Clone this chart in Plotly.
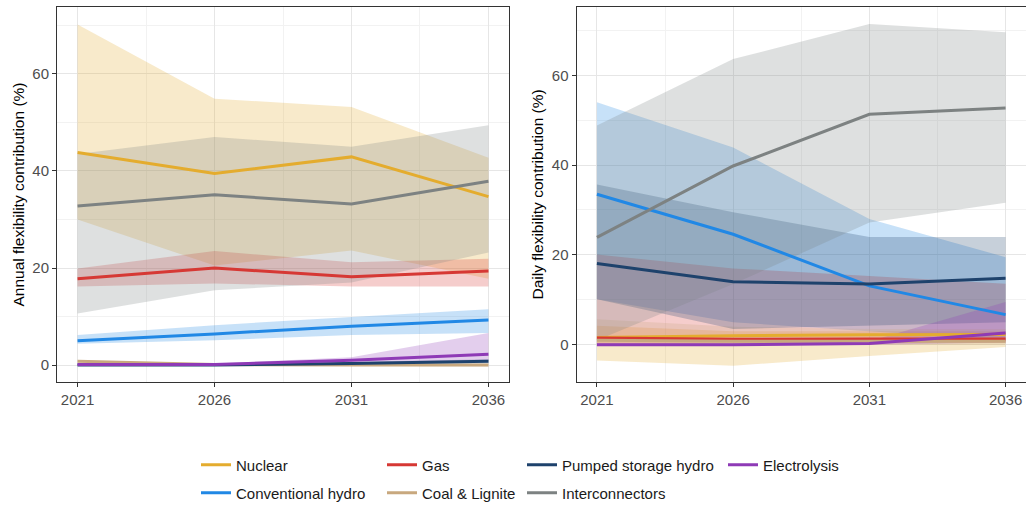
import plotly.graph_objects as go

years = [2021, 2026, 2031, 2036]

series = ["Nuclear", "Gas", "Pumped storage hydro", "Electrolysis",
          "Conventional hydro", "Coal & Lignite", "Interconnectors"]

colors = {
    "Nuclear": (228, 172, 46),
    "Gas": (214, 56, 52),
    "Pumped storage hydro": (30, 66, 108),
    "Electrolysis": (142, 58, 182),
    "Conventional hydro": (33, 136, 229),
    "Coal & Lignite": (200, 168, 126),
    "Interconnectors": (125, 130, 130),
}

# ---- Annual (left panel) ----
annual_mid = {
    "Nuclear": [43.8, 39.5, 42.9, 34.7],
    "Conventional hydro": [5.0, 6.4, 8.0, 9.3],
    "Gas": [17.8, 20.0, 18.2, 19.4],
    "Coal & Lignite": [0.8, 0.1, 0.0, 0.0],
    "Pumped storage hydro": [0.0, 0.0, 0.3, 0.8],
    "Interconnectors": [32.8, 35.1, 33.2, 37.9],
    "Electrolysis": [0.1, 0.1, 1.0, 2.2],
}
annual_lo = {
    "Nuclear": [30.0, 20.5, 23.6, 17.8],
    "Conventional hydro": [4.4, 5.1, 6.2, 6.6],
    "Gas": [16.2, 16.8, 16.2, 16.2],
    "Coal & Lignite": [0.5, 0.0, -0.2, -0.3],
    "Pumped storage hydro": [0.0, 0.0, 0.0, 0.3],
    "Interconnectors": [10.6, 15.4, 17.0, 23.2],
    "Electrolysis": [0.0, 0.0, 0.3, 0.8],
}
annual_hi = {
    "Nuclear": [70.2, 54.9, 53.2, 42.7],
    "Conventional hydro": [6.2, 8.2, 9.9, 11.5],
    "Gas": [19.9, 23.5, 21.2, 21.9],
    "Coal & Lignite": [1.0, 0.2, 0.2, 0.2],
    "Pumped storage hydro": [0.1, 0.1, 0.6, 1.2],
    "Interconnectors": [43.5, 47.0, 45.0, 49.4],
    "Electrolysis": [0.3, 0.3, 1.6, 6.6],
}

# ---- Daily (right panel) ----
daily_mid = {
    "Nuclear": [1.6, 2.0, 2.2, 2.3],
    "Conventional hydro": [33.5, 24.6, 13.1, 6.7],
    "Gas": [1.5, 1.2, 1.3, 1.3],
    "Coal & Lignite": [1.0, 0.8, 0.8, 0.8],
    "Pumped storage hydro": [18.1, 14.0, 13.5, 14.8],
    "Interconnectors": [23.9, 39.8, 51.3, 52.7],
    "Electrolysis": [0.0, 0.0, 0.3, 2.6],
}
daily_lo = {
    "Nuclear": [-3.5, -4.7, -2.5, -0.5],
    "Conventional hydro": [10.1, 5.0, 3.0, 1.0],
    "Gas": [-0.3, 0.3, 0.5, 0.5],
    "Coal & Lignite": [0.0, 0.0, 0.0, 0.0],
    "Pumped storage hydro": [10.1, 3.5, 4.2, 5.0],
    "Interconnectors": [1.0, 13.5, 27.2, 31.6],
    "Electrolysis": [0.0, 0.0, 0.0, 0.5],
}
daily_hi = {
    "Nuclear": [4.2, 3.0, 3.0, 3.0],
    "Conventional hydro": [54.0, 43.9, 28.0, 19.5],
    "Gas": [20.1, 17.0, 15.3, 13.6],
    "Coal & Lignite": [5.7, 4.0, 3.5, 3.5],
    "Pumped storage hydro": [35.7, 29.5, 24.0, 24.0],
    "Interconnectors": [48.8, 63.6, 71.4, 69.6],
    "Electrolysis": [0.3, 0.3, 0.8, 9.5],
}

x_ticks = [2021, 2026, 2031, 2036]
x_minor = [2023.5, 2028.5, 2033.5]
y_ticks = [0, 20, 40, 60]
y_minor = [10, 30, 50, 70]

ribbon_order = ["Nuclear", "Conventional hydro", "Gas", "Coal & Lignite",
                "Pumped storage hydro", "Interconnectors", "Electrolysis"]
line_order = ["Nuclear", "Gas", "Coal & Lignite", "Conventional hydro",
              "Interconnectors", "Pumped storage hydro", "Electrolysis"]

W, H = 1026, 506
fig = go.Figure()

def rgba(c, a):
    return f"rgba({c[0]},{c[1]},{c[2]},{a})"

panels = [("x", "y", annual_mid, annual_lo, annual_hi, True),
          ("x2", "y2", daily_mid, daily_lo, daily_hi, False)]

for xa, ya, mid, lo, hi, _ in panels:
    for s in ribbon_order:
        fig.add_trace(go.Scatter(
            x=years + years[::-1], y=hi[s] + lo[s][::-1],
            fill="toself", fillcolor=rgba(colors[s], 0.25),
            line=dict(width=0), mode="lines", hoverinfo="skip",
            showlegend=False, xaxis=xa, yaxis=ya))

legend_ids = {s: ("legend" if i == 0 else f"legend{i+1}") for i, s in enumerate(series)}

for xa, ya, mid, lo, hi, show in panels:
    for s in line_order:
        fig.add_trace(go.Scatter(
            x=years, y=mid[s], mode="lines", name=s,
            line=dict(color=rgba(colors[s], 1), width=3),
            showlegend=show, legend=legend_ids[s],
            xaxis=xa, yaxis=ya))

font_family = "Liberation Sans, Arial, sans-serif"
axis_common = dict(
    showline=True, linecolor="#333333", linewidth=1, mirror=True,
    ticks="outside", ticklen=4, tickcolor="#333333", tickwidth=1,
    tickfont=dict(size=15, color="#4D4D4D", family=font_family),
    showgrid=True, gridcolor="#E6E6E6", gridwidth=1, zeroline=False,
)
xaxis_common = dict(axis_common, range=[2020.25, 2036.75], tickvals=x_ticks,
                    minor=dict(tickvals=x_minor, showgrid=True, gridcolor="#F2F2F2", ticks=""))
yaxis_minor = dict(tickvals=y_minor, showgrid=True, gridcolor="#F2F2F2", ticks="")

top = 1 - 7 / H
bot = 1 - 382 / H

layout = dict(
    width=W, height=H,
    margin=dict(l=0, r=0, t=0, b=0, autoexpand=False),
    paper_bgcolor="white", plot_bgcolor="white",
    font=dict(family=font_family, color="#1A1A1A"),
    xaxis=dict(xaxis_common, domain=[57 / W, 509 / W], anchor="y"),
    yaxis=dict(axis_common, domain=[bot, top], range=[-3.5, 73.8],
               tickvals=y_ticks, minor=yaxis_minor, anchor="x"),
    xaxis2=dict(xaxis_common, domain=[576.5 / W, 1.0], anchor="y2"),
    yaxis2=dict(axis_common, domain=[bot, top], range=[-8.3, 75.2],
                tickvals=y_ticks, minor=yaxis_minor, anchor="x2"),
    annotations=[
        dict(text="Annual flexibility contribution (%)", textangle=-90,
             x=18 / W, y=(bot + top) / 2, xref="paper", yref="paper",
             xanchor="center", yanchor="middle", showarrow=False,
             font=dict(size=15.5, color="#000000", family=font_family)),
        dict(text="Daily flexibility contribution (%)", textangle=-90,
             x=537 / W, y=(bot + top) / 2, xref="paper", yref="paper",
             xanchor="center", yanchor="middle", showarrow=False,
             font=dict(size=15.5, color="#000000", family=font_family)),
    ],
    showlegend=True,
)

# legend positions (text start x, row center y) in pixels
legend_pos = {
    "Nuclear": (236, 465), "Gas": (422, 465),
    "Pumped storage hydro": (562, 465), "Electrolysis": (763, 465),
    "Conventional hydro": (236, 493), "Coal & Lignite": (422, 493),
    "Interconnectors": (562, 493),
}
for s in series:
    tx, ty = legend_pos[s]
    layout[legend_ids[s]] = dict(
        x=(tx - 40) / W, y=1 - ty / H, xanchor="left", yanchor="middle",
        orientation="v", bgcolor="rgba(0,0,0,0)", borderwidth=0,
        font=dict(size=15, color="#1A1A1A", family=font_family),
        itemclick=False, itemdoubleclick=False)

fig.update_layout(**layout)
fig.write_html(
    "out.html",
    config={"displayModeBar": False},
    post_script="document.body.style.margin='0';document.body.style.overflow='hidden';",
)
